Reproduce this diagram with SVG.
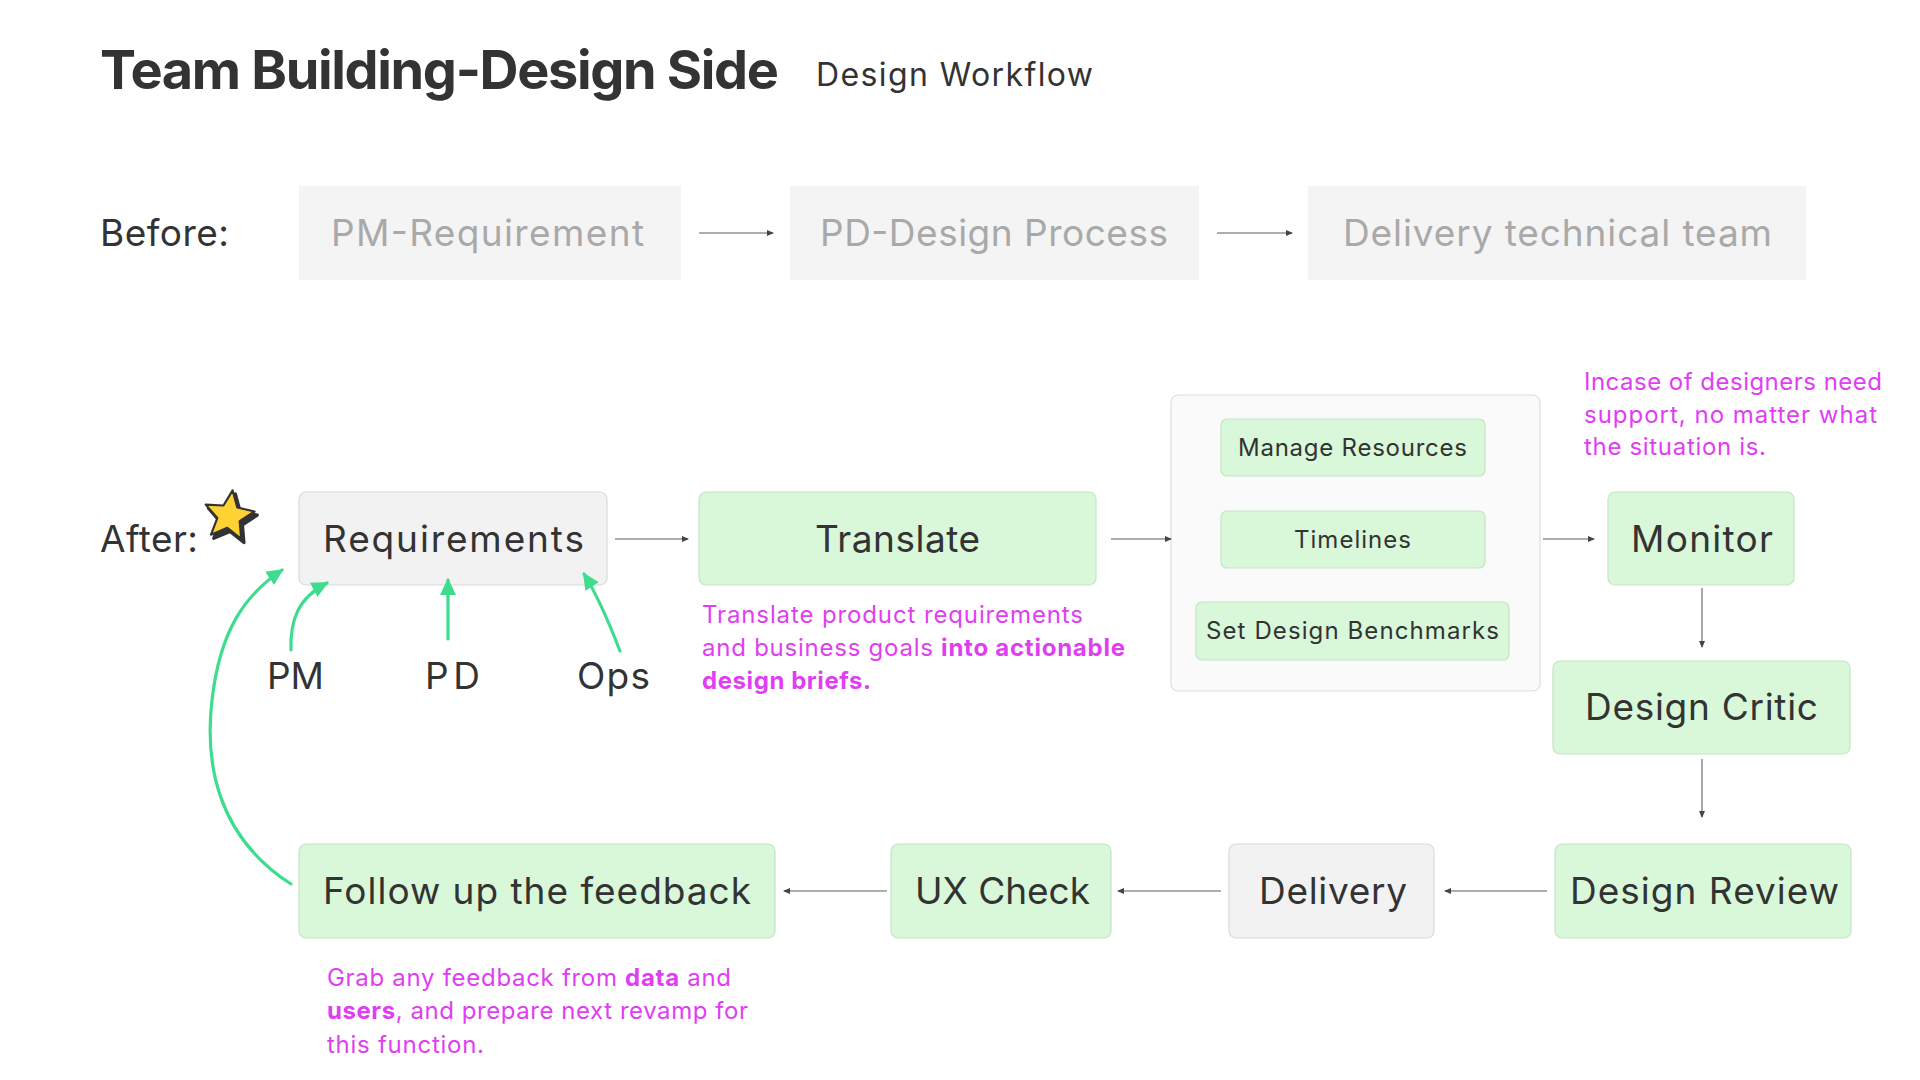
<svg xmlns="http://www.w3.org/2000/svg" width="1920" height="1080" viewBox="0 0 1920 1080">
<style>
text{font-family:Inter,"Noto Sans","Liberation Sans",sans-serif;fill:#333333}
.title{font-size:54px;font-weight:700}
.sub{font-size:32px}
.lbl{font-size:37px}
.ghost{font-size:37px;fill:#a9a9a9}
.small{font-size:24px}
.note{font-size:24px;fill:#e03ef2}
.note .b{font-weight:700}
.before{fill:#f4f4f4}
.green{fill:#d9f7d9;stroke:#c6e4c6;stroke-width:1.2}
.grey{fill:#f2f2f2;stroke:#dadada;stroke-width:1.2}
.group{fill:#fafafa;stroke:#dedede;stroke-width:1.2}
.conn{fill:none;stroke:#8f968f;stroke-width:1.6;marker-end:url(#ah)}
.gconn{fill:none;stroke:#3fdc8f;stroke-width:3.2;stroke-linecap:round;marker-end:url(#gh)}
</style>
<defs>
<marker id="ah" markerUnits="userSpaceOnUse" markerWidth="7" markerHeight="7" refX="6" refY="3.5" orient="auto"><path d="M0,0.5 L7,3.5 L0,6.5 z" fill="#444"/></marker>
<marker id="gh" markerUnits="userSpaceOnUse" markerWidth="18" markerHeight="18" refX="15" refY="9" orient="auto"><path d="M0,1 L17,9 L0,17 z" fill="#3fdc8f"/></marker>
</defs>
<rect width="1920" height="1080" fill="#ffffff"/>
<g id="header">
<text class="title" x="100" y="89" textLength="679">Team Building-Design Side</text>
<text class="sub" x="816" y="86" textLength="277">Design Workflow</text>
</g>
<g id="before-label"><text class="lbl" x="100" y="246" textLength="129">Before:</text></g>
<g id="before-pm"><rect class="before" x="299" y="186" width="382" height="94"/><text class="ghost" x="331" y="246" textLength="313">PM-Requirement</text></g>
<g id="before-pd"><rect class="before" x="790" y="186" width="409" height="94"/><text class="ghost" x="820" y="246" textLength="348">PD-Design Process</text></g>
<g id="before-delivery"><rect class="before" x="1308" y="186" width="498" height="94"/><text class="ghost" x="1343" y="246" textLength="429">Delivery technical team</text></g>
<g id="after-label"><text class="lbl" x="100" y="552" textLength="98">After:</text></g>
<g id="star" transform="translate(229,516) rotate(8) scale(1.08)">
<polygon points="0,-24 6.47,-8.9 22.83,-7.42 10.46,3.4 14.11,19.42 0,11 -14.11,19.42 -10.46,3.4 -22.83,-7.42 -6.47,-8.9" transform="translate(3,3)" fill="#333" stroke="#333" stroke-width="3" stroke-linejoin="round"/>
<polygon points="0,-24 6.47,-8.9 22.83,-7.42 10.46,3.4 14.11,19.42 0,11 -14.11,19.42 -10.46,3.4 -22.83,-7.42 -6.47,-8.9" fill="#ffd234" stroke="#333" stroke-width="2" stroke-linejoin="round"/>
</g>
<g id="requirements"><rect class="grey" x="299" y="492" width="308" height="93" rx="7"/><text class="lbl" x="323" y="552" textLength="261">Requirements</text></g>
<g id="pm"><text class="lbl" x="267" y="689" textLength="57">PM</text></g>
<g id="pd"><text class="lbl" x="425" y="689" textLength="55">PD</text></g>
<g id="ops"><text class="lbl" x="577" y="689" textLength="73">Ops</text></g>
<g id="translate"><rect class="green" x="699" y="492" width="397" height="93" rx="7"/><text class="lbl" x="815" y="552" textLength="165">Translate</text></g>
<g id="translate-note"><text class="note" x="702" y="623" textLength="381">Translate product requirements</text><text class="note" x="702" y="656" textLength="423">and business goals <tspan class="b">into actionable</tspan></text><text class="note" x="702" y="689" textLength="169"><tspan class="b">design briefs.</tspan></text></g>
<g id="plan-group"><rect class="group" x="1171" y="395" width="369" height="296" rx="7"/></g>
<g id="manage-resources"><rect class="green" x="1221" y="419" width="264" height="57" rx="6"/><text class="small" x="1238" y="456" textLength="229">Manage Resources</text></g>
<g id="timelines"><rect class="green" x="1221" y="511" width="264" height="57" rx="6"/><text class="small" x="1294" y="548" textLength="117">Timelines</text></g>
<g id="benchmarks"><rect class="green" x="1196" y="602" width="313" height="58" rx="6"/><text class="small" x="1206" y="639" textLength="293">Set Design Benchmarks</text></g>
<g id="incase-note"><text class="note" x="1584" y="390" textLength="298">Incase of designers need</text><text class="note" x="1584" y="423" textLength="293">support, no matter what</text><text class="note" x="1584" y="455" textLength="182">the situation is.</text></g>
<g id="monitor"><rect class="green" x="1608" y="492" width="186" height="93" rx="7"/><text class="lbl" x="1631" y="552" textLength="142">Monitor</text></g>
<g id="design-critic"><rect class="green" x="1553" y="661" width="297" height="93" rx="7"/><text class="lbl" x="1585" y="720" textLength="233">Design Critic</text></g>
<g id="design-review"><rect class="green" x="1555" y="844" width="296" height="94" rx="7"/><text class="lbl" x="1570" y="904" textLength="269">Design Review</text></g>
<g id="delivery"><rect class="grey" x="1229" y="844" width="205" height="94" rx="7"/><text class="lbl" x="1259" y="904" textLength="148">Delivery</text></g>
<g id="ux-check"><rect class="green" x="891" y="844" width="220" height="94" rx="7"/><text class="lbl" x="915" y="904" textLength="175">UX Check</text></g>
<g id="follow-up"><rect class="green" x="299" y="844" width="476" height="94" rx="7"/><text class="lbl" x="323" y="904" textLength="428">Follow up the feedback</text></g>
<g id="grab-note"><text class="note" x="327" y="986" textLength="404">Grab any feedback from <tspan class="b">data</tspan> and</text><text class="note" x="327" y="1019" textLength="421"><tspan class="b">users</tspan>, and prepare next revamp for</text><text class="note" x="327" y="1053" textLength="157">this function.</text></g>
<g id="connectors">
<line class="conn" x1="699" y1="233" x2="773" y2="233"/>
<line class="conn" x1="1217" y1="233" x2="1292" y2="233"/>
<line class="conn" x1="615" y1="539" x2="688" y2="539"/>
<line class="conn" x1="1111" y1="539" x2="1171" y2="539"/>
<line class="conn" x1="1543" y1="539" x2="1594" y2="539"/>
<line class="conn" x1="1702" y1="588" x2="1702" y2="647"/>
<line class="conn" x1="1702" y1="759" x2="1702" y2="817"/>
<line class="conn" x1="1547" y1="891" x2="1445" y2="891"/>
<line class="conn" x1="1221" y1="891" x2="1118" y2="891"/>
<line class="conn" x1="887" y1="891" x2="784" y2="891"/>
<path class="gconn" d="M291,650 C290,620 298,598 327,583"/>
<path class="gconn" d="M448,639 L448,580"/>
<path class="gconn" d="M620,651 C608,620 598,596 584,574"/>
<path class="gconn" d="M291,884 C215,835 205,760 212,700 C220,630 245,595 282,570"/>
</g>
</svg>
